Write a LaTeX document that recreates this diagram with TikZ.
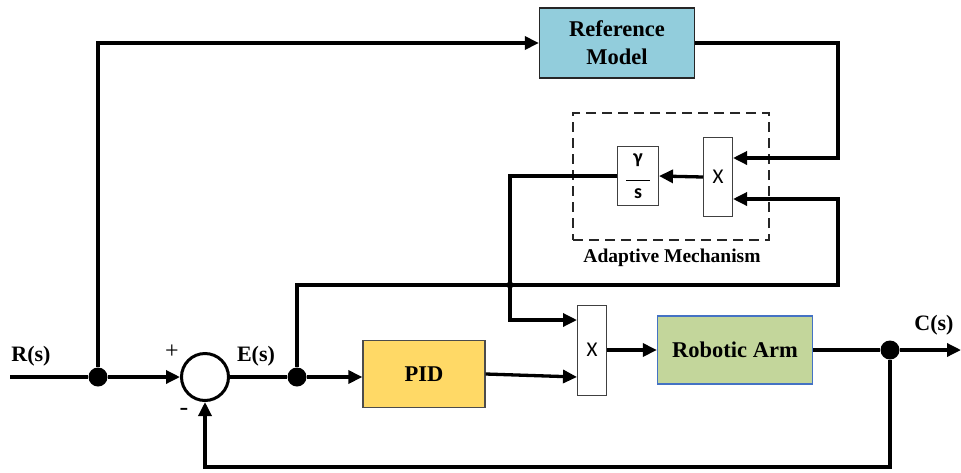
\documentclass[tikz,border=0pt]{standalone}
\usepackage{fontspec}
\setmainfont{Liberation Serif}
\setsansfont{Carlito}
\usetikzlibrary{arrows.meta,positioning}
\definecolor{refblue}{HTML}{92CDDC}
\definecolor{pidyellow}{HTML}{FFD966}
\definecolor{armgreen}{HTML}{C3D69B}
\definecolor{armedge}{HTML}{4472C4}

\begin{document}
\begin{tikzpicture}[x=1pt,y=-1pt,
    block/.style={rectangle,draw=black!85,line width=1.3pt,
      font=\fontsize{22.5}{28}\selectfont\bfseries,align=center},
    mult/.style={rectangle,draw=black!75,line width=1pt,minimum width=29pt,
      font=\sffamily\fontsize{21}{22}\selectfont},
    sig/.style={line width=3.3pt},
    to/.style={sig,-{Triangle[length=14pt,width=13pt]}},
    dot/.style={circle,fill=black,inner sep=0pt,minimum size=19pt},
    lbl/.style={font=\fontsize{22}{24}\selectfont\bfseries}]

  \useasboundingbox (0,0) rectangle (961,472);

  % blocks
  \node[block,fill=refblue,minimum width=155pt,minimum height=70pt] (ref) at (617,43) {Reference\\Model};
  \node[draw=black!85,dash pattern=on 10pt off 6pt,line width=1.1pt,
    minimum width=196pt,minimum height=127pt] (adapt) at (671,176.5) {};
  \node[font=\fontsize{19.5}{22}\selectfont\bfseries] (adaptlbl) at (672,258) {Adaptive Mechanism};
  \node[mult,minimum height=79pt] (xa) at (718,177) {X};
  \node[rectangle,draw=black!75,line width=1pt,minimum width=41pt,minimum height=59pt,
    font=\sffamily\bfseries\fontsize{20}{20}\selectfont,align=center,inner sep=0pt] (gain) at (638,176)
    {γ\\[-3pt]\rule{24pt}{0.8pt}\\[-2pt]s};
  \node[block,fill=pidyellow,draw=black!70,minimum width=122pt,minimum height=67pt] (pid) at (424,374) {PID};
  \node[mult,minimum height=90pt] (xm) at (592,350) {X};
  \node[block,fill=armgreen,draw=armedge,minimum width=155pt,minimum height=68pt] (arm) at (735,350) {Robotic Arm};
  \node[circle,draw,line width=3pt,minimum size=47pt,inner sep=0pt] (sum) at (205,377) {};

  % branch points
  \coordinate (in) at (10,377);
  \coordinate (out) at (961,350);
  \node[dot] (rs) at (98,377) {};
  \node[dot] (es) at (297,377) {};
  \node[dot] (cs) at (890,350) {};

  % labels
  \node[lbl] (rlbl) at (31,356) {R(s)};
  \node[lbl] (elbl) at (256,356) {E(s)};
  \node[lbl] (clbl) at (934,325) {C(s)};
  \node[font=\fontsize{24}{26}\selectfont] (plus) at (172,352) {+};
  \node[font=\fontsize{26}{26}\selectfont] (minus) at (184,412) {-};

  % signals
  \draw[sig] (in) -- (rs);
  \draw[to] (rs) -- (sum.west);
  \draw[to] (rs) |- (ref.west);
  \draw[sig] (sum.east) -- (es);
  \draw[to] (es) -- (pid.west |- es);
  \draw[to] (ref.east) -| (838,158) -- ([yshift=19pt]xa.east);
  \draw[to] (es) |- (838,285) |- ([yshift=-22pt]xa.east);
  \draw[to] (xa.west) -- (gain.east);
  \draw[to] (gain.west) -| (510,320) -- ([yshift=30pt]xm.west);
  \fill (510,285) circle (3.5pt);
  \draw[to] (pid.east) -- ([yshift=-27pt]xm.west);
  \draw[to] (xm.east) -- (arm.west);
  \draw[sig] (arm.east) -- (cs);
  \draw[to] (cs) -- (out);
  \draw[to] (cs) |- (205,467) -- (sum.south);

\end{tikzpicture}
\end{document}
